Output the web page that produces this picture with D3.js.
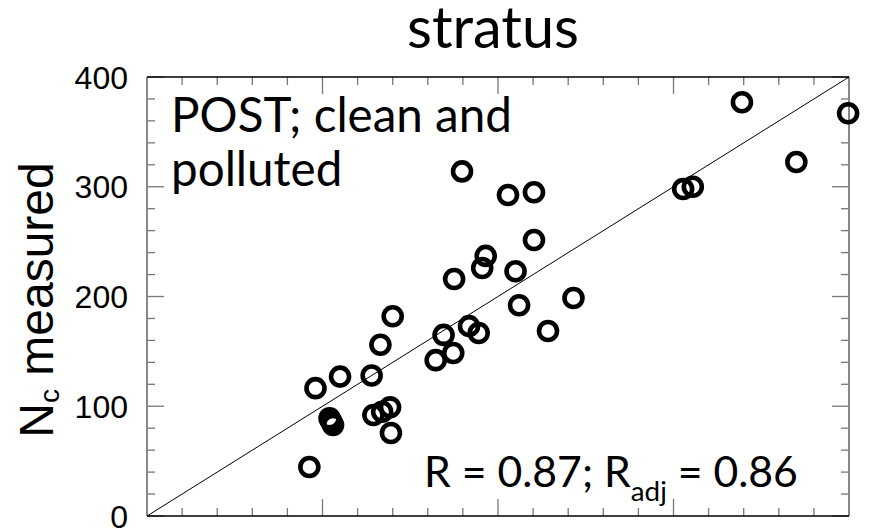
<!DOCTYPE html>
<html>
<head>
<meta charset="utf-8">
<script src="https://cdn.jsdelivr.net/npm/d3@7"></script>
<style>
  body { margin: 0; background: #fff; }
  svg { display: block; }
</style>
</head>
<body>
<svg id="chart" width="889" height="528"></svg>
<script>
// N_c predicted (x) vs measured (y)
const xVals = [339, 399.5, 370, 305.5, 311,
  179.5, 205.7, 220.5, 220.5, 193, 191, 210, 175, 243, 212, 140, 183.5, 189, 228.5, 169,
  133, 174.5, 164.5, 110, 128, 96,
  104, 105, 106, 129, 134, 138.5, 139, 92.5];
const yVals = [377, 367, 322.5, 298, 300,
  314, 292.5, 295, 251.5, 237, 226, 223, 216, 198.6, 192, 182, 173, 166.7, 168.5, 165,
  156, 148.5, 142, 127, 128, 116.5,
  89, 86, 83, 92, 95, 99, 75.6, 44.6];
const yTicks = [0, 100, 200, 300, 400];
const titleText = "stratus";
const noteLines = ["POST; clean and", "polluted"];

const svg = d3.select("#chart"),
  pLeft = 147, pRight = 849, pTop = 77, pBottom = 516;

const x = d3.scaleLinear().domain([0, 400]).range([pLeft, pRight]);
const y = d3.scaleLinear().domain([0, 400]).range([pBottom, pTop]);

const calibri = "Lato, 'Open Sans', sans-serif";
const arial = "'Liberation Sans', Arial, sans-serif";

// size a text so that it spans the wanted width
function fit(sel, w) {
  const cur = parseFloat(sel.attr("font-size"));
  const bw = sel.node().getBBox().width;
  sel.attr("font-size", cur * w / bw);
}

// ticks (minor every 20, major every 100) on all four sides, pointing inward
const minor = d3.range(0, 401, 20);
const tickCol = "#777";
const g = svg.append("g");
minor.forEach(v => {
  const len = v % 100 === 0 ? 17 : 8;
  g.append("line").attr("x1", x(v)).attr("x2", x(v)).attr("y1", pBottom).attr("y2", pBottom - len);
  g.append("line").attr("x1", x(v)).attr("x2", x(v)).attr("y1", pTop).attr("y2", pTop + len);
  g.append("line").attr("y1", y(v)).attr("y2", y(v)).attr("x1", pLeft).attr("x2", pLeft + len);
  g.append("line").attr("y1", y(v)).attr("y2", y(v)).attr("x1", pRight).attr("x2", pRight - len);
});
g.selectAll("line").attr("stroke", tickCol).attr("stroke-width", 1.3);

// frame
svg.append("line").attr("x1", pLeft).attr("x2", pLeft).attr("y1", pTop).attr("y2", pBottom)
  .attr("stroke", "#888").attr("stroke-width", 2);
svg.append("line").attr("x1", pRight).attr("x2", pRight).attr("y1", pTop).attr("y2", pBottom)
  .attr("stroke", "#888").attr("stroke-width", 2);
svg.append("line").attr("x1", pLeft).attr("x2", pRight).attr("y1", pTop).attr("y2", pTop)
  .attr("stroke", "#000").attr("stroke-width", 1.5);
svg.append("line").attr("x1", pLeft).attr("x2", pRight).attr("y1", pBottom).attr("y2", pBottom)
  .attr("stroke", "#000").attr("stroke-width", 1.5);

// y tick labels
svg.selectAll(".ylab").data(yTicks).enter().append("text")
  .attr("class", "ylab")
  .attr("x", 128).attr("y", d => y(d))
  .attr("dy", "0.36em")
  .attr("text-anchor", "end")
  .attr("font-family", arial).attr("font-size", 32)
  .text(d => d);

// 1:1 line
svg.append("line")
  .attr("x1", x(0)).attr("y1", y(0)).attr("x2", x(400)).attr("y2", y(400))
  .attr("stroke", "#000").attr("stroke-width", 1);

// points
svg.selectAll("circle").data(xVals).enter().append("circle")
  .attr("cx", d => x(d))
  .attr("cy", (d, i) => y(yVals[i]))
  .attr("r", 9)
  .attr("fill", "none")
  .attr("stroke", "#000")
  .attr("stroke-width", 4.6);

// title
const title = svg.append("text")
  .attr("x", 493).attr("y", 48)
  .attr("text-anchor", "middle")
  .attr("font-family", calibri).attr("font-size", 40)
  .text(titleText);
fit(title, 172);

// annotation
const n1 = svg.append("text").attr("x", 171).attr("y", 132)
  .attr("font-family", calibri).attr("font-size", 40).text(noteLines[0]);
fit(n1, 341);
svg.append("text").attr("x", 171).attr("y", 186)
  .attr("font-family", calibri).attr("font-size", n1.attr("font-size")).text(noteLines[1]);

// R text
const rt = svg.append("text").attr("x", 424).attr("y", 487)
  .attr("font-family", calibri).attr("font-size", 40);
rt.append("tspan").text("R = 0.87; R");
rt.append("tspan").attr("class", "sub").attr("font-size", 26).attr("dy", 14).text("adj");
rt.append("tspan").attr("class", "after").attr("dy", -14).text(" = 0.86");
const base = parseFloat(rt.attr("font-size"));
const k = 374 / rt.node().getBBox().width;
rt.attr("font-size", base * k);
rt.select(".sub").attr("font-size", 26 * k);

// y axis label
const yl = svg.append("text")
  .attr("transform", "translate(53,300) rotate(-90)")
  .attr("text-anchor", "middle")
  .attr("font-family", arial).attr("font-size", 48);
yl.append("tspan").text("N");
yl.append("tspan").attr("font-size", 28).attr("dy", 6).text("c");
yl.append("tspan").attr("dy", -6).text(" measured");
</script>
</body>
</html>
